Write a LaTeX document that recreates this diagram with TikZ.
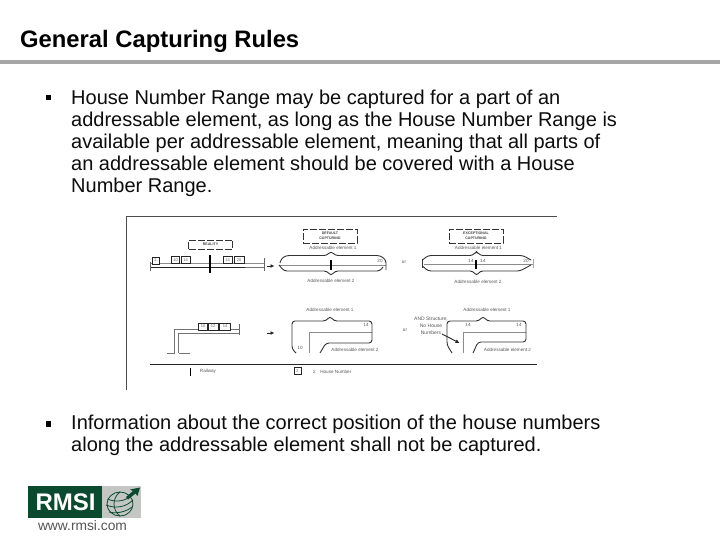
\documentclass[tikz,border=0pt]{standalone}
\usepackage{fontspec}
\setmainfont{Liberation Sans}
\usetikzlibrary{arrows.meta}
\definecolor{rulegray}{HTML}{A6A6A6}
\definecolor{rmsigreen}{HTML}{0B4A2F}
\definecolor{logogray}{HTML}{C4C6C4}
\definecolor{webgray}{HTML}{555555}
\tikzset{
  bodyline/.style={anchor=base west,inner sep=0pt,font=\fontsize{20}{22}\selectfont,text=black!95},
  tiny/.style={inner sep=0pt,font=\fontsize{4.6}{6}\selectfont,text=black!65,align=center},
  tinyb/.style={inner sep=0pt,font=\bfseries\fontsize{3.6}{5}\selectfont,text=black!75,align=center},
  capbox/.style={draw=black!80,line width=.7pt,dash pattern=on 7pt off 2pt,inner sep=0pt},
  numbox/.style={draw=black!85,line width=.7pt,fill=white,inner sep=0pt,font=\fontsize{4}{5}\selectfont,text=black!65},
  thinroad/.style={draw=black!45,line width=.5pt},
  blackroad/.style={draw=black!85,line width=.9pt},
  grayroad/.style={draw=black!55,line width=1pt},
  bracket/.style={draw=black!80,line width=.9pt,rounded corners=3pt},
  rail/.style={draw=black,line width=1.6pt},
  fatarrow/.style={draw=black!85,line width=.9pt,-{Latex[length=4pt,width=4pt]}}
}
\begin{document}
\begin{tikzpicture}[x=1pt,y=-1pt]
\useasboundingbox (0,0) rectangle (720,540);
\fill[white] (0,0) rectangle (720,540);
% title
\node[anchor=base west,inner sep=0pt,font=\bfseries\fontsize{23.8}{26}\selectfont] (title) at (20,48) {General Capturing Rules};
\coordinate (ruleL) at (0,62);
\coordinate (ruleR) at (720,62);
\draw[rulegray,line width=3.6pt] (ruleL) -- (ruleR);
% text
\fill[black] (45.5,95) rectangle (51,100.5);
\node[bodyline] (l1) at (71,105) {House Number Range may be captured for a part of an};
\node[bodyline] (l2) at (71,127) {addressable element, as long as the House Number Range is};
\node[bodyline] (l3) at (71,149) {available per addressable element, meaning that all parts of};
\node[bodyline] (l4) at (71,171) {an addressable element should be covered with a House};
\node[bodyline] (l5) at (71,193) {Number Range.};
\fill[black] (45.5,421) rectangle (51,426.5);
\node[bodyline] (l6) at (71,429) {Information about the correct position of the house numbers};
\node[bodyline] (l7) at (71,451) {along the addressable element shall not be captured.};
% figure frame
\draw[black!70,line width=.8pt] (126,390) -- (126,216) -- (557,216);
% ---------- top left: reality
\node[capbox,minimum width=44pt,minimum height=9pt] (reality) at (210.5,244.5) {};
\node[tinyb] (realityT) at (210.5,244.5) {REALITY};
\draw[thinroad] (150,263) -- (264,263);
\draw[blackroad] (150,267) -- (245,267);
\draw[grayroad] (245,267) -- (264,267);
\draw[black!60,line width=.5pt] (150,262) -- (150,271) (264,258) -- (264,271);
\draw[rail] (210,255) -- (210,273);
\node[numbox,minimum width=7pt,minimum height=7pt] (h2) at (155.5,260.5) {2};
\node[numbox,minimum width=8pt,minimum height=7pt] (h10) at (175.5,260) {10};
\node[numbox,minimum width=9pt,minimum height=7pt] (h14a) at (185.5,260) {14};
\node[numbox,minimum width=9pt,minimum height=7pt] (h14b) at (227.5,260) {14};
\node[numbox,minimum width=10pt,minimum height=7pt] (h20) at (239,260) {20};
\coordinate (a1s) at (267,266);
\coordinate (a1e) at (274.5,266);
\draw[fatarrow] (a1s) -- (a1e);
% ---------- top middle: default capturing
\node[capbox,minimum width=54pt,minimum height=14pt] (def) at (330,236) {};
\node[tinyb] (defT) at (330,236) {DEFAULT\\CAPTURING};
\node[tiny] (e1a) at (333,248) {Addressable element 1};
\draw[thinroad] (280,265) -- (386,265);
\draw[bracket] (280,263) -- (281,259) -- (286,255.5) -- (327,255.5) -- (331,251) -- (335,255.5) -- (380,255.5) -- (386,260) -- (386,270);
\draw[bracket] (279,265) -- (284,271) -- (327,271) -- (331,276) -- (335,271) -- (380,271) -- (383,267);
\draw[rail] (331,260) -- (331,270);
\node[tiny] (t20a) at (380,260.5) {20};
\node[tiny] (e2a) at (331,281) {Addressable element 2};
\node[tiny] (or1) at (404,262) {or};
% ---------- top right: exceptional capturing
\node[capbox,minimum width=54pt,minimum height=14pt] (exc) at (476,236) {};
\node[tinyb] (excT) at (476,236) {EXCEPTIONAL\\CAPTURING};
\node[tiny] (e1b) at (478.5,248) {Addressable element 1};
\draw[thinroad] (424,264.5) -- (533,264.5);
\draw[bracket] (422.5,260) -- (428,255.5) -- (473,255.5) -- (476.5,251) -- (480,255.5) -- (523,255.5) -- (531,260);
\draw[bracket] (422.5,266) -- (428,271) -- (473,271) -- (476.5,276) -- (480,271) -- (520,271) -- (531,265);
\draw[black!80,line width=.9pt] (422.5,259) -- (422.5,268);
\draw[black!35,line width=.9pt] (533,259) -- (533,268);
\draw[rail] (476,260) -- (476,269);
\node[tiny] (t14c) at (471,260.5) {14};
\node[tiny] (t14d) at (483,260.5) {14};
\node[tiny] (t20b) at (526,260.5) {20};
\node[tiny] (e2b) at (478,282) {Addressable element 2};
% ---------- bottom left road
\draw[grayroad] (167,353) -- (175,353) (179,353) -- (190,353);
\draw[grayroad] (174,353) -- (174,329.5) -- (240,329.5);
\draw[grayroad] (178.5,353) -- (178.5,333.5) -- (239,333.5);
\draw[black!60,line width=.5pt] (239.5,324) -- (239.5,335);
\node[numbox,minimum width=9.5pt,minimum height=7pt] (k10) at (203,326.5) {10};
\node[numbox,minimum width=10pt,minimum height=7pt] (k12) at (213,326.5) {12};
\node[numbox,minimum width=10.5pt,minimum height=7pt] (k14) at (225,326.5) {14};
\coordinate (a2s) at (267,333);
\coordinate (a2e) at (274.5,333);
\draw[fatarrow] (a2s) -- (a2e);
% ---------- bottom middle
\node[tiny] (e1c) at (330,310) {Addressable element 1};
\draw[thinroad] (309,353) -- (309,332) -- (372,332);
\draw[bracket] (296,353) -- (292,349) -- (292,321) -- (326,321) -- (330,316) -- (334,321) -- (372,321) -- (372,343) -- (326,343) -- (320,353);
\node[tiny] (t10a) at (300,348) {10};
\node[tiny] (t14e) at (366,325) {14};
\node[tiny] (e2c) at (355,350) {Addressable element 2};
\node[tiny] (or2) at (405,330) {or};
% ---------- bottom right
\node[tiny] (e1d) at (487,310) {Addressable element 1};
\node[tiny,font=\fontsize{5}{7}\selectfont] (andT) at (431,326) {AND Structure,\\No House\\Numbers};
\draw[thinroad] (463,353) -- (463,332) -- (526,332);
\draw[bracket] (452,353) -- (447,345) -- (447,321) -- (479,321) -- (483,316) -- (487,321) -- (526,321) -- (526,342) -- (478,342) -- (473,353);
\node[tiny] (t14f) at (468,325) {14};
\node[tiny] (t14g) at (519,325) {14};
\node[tiny] (e2d) at (507.5,350) {Addressable element 2};
\coordinate (a3s) at (442,334);
\coordinate (a3e) at (459.5,343);
\draw[fatarrow] (a3s) -- (a3e);
% ---------- legend
\coordinate (legL) at (150,364);
\coordinate (legR) at (537,364);
\draw[black!85,line width=.8pt] (legL) -- (legR);
\draw[rail,line width=1.1pt] (190.5,368) -- (190.5,376);
\node[tiny] (railT) at (208,371.5) {Railway};
\node[numbox,minimum width=7pt,minimum height=7pt] (legbox) at (297.5,371) {2};
\node[tiny,anchor=west] (houseT) at (313,371.5) {2\quad House Number};
% ---------- logo
\fill[rmsigreen] (28,486) rectangle (102,518);
\fill[logogray] (102,486) rectangle (141,518);
\node[inner sep=0pt,text=white,font=\bfseries\fontsize{24}{26}\selectfont] (rmsi) at (65.5,502.5) {RMSI};
\begin{scope}[draw=rmsigreen,line width=.8pt]
\draw (120,504) ellipse (13 and 12);
\draw (107.5,499) .. controls (116,503) and (126,501) .. (132,495);
\draw (106,505) .. controls (116,509) and (126,507) .. (133,500);
\draw (109,512) .. controls (116,514) and (126,512) .. (132,507);
\draw (120,492) .. controls (112,498) and (112,510) .. (120,516);
\end{scope}
\fill[rmsigreen] (126,497) -- (133,491) -- (130,489.5) -- (140,487.5) -- (137.5,496) -- (135.5,493.5) -- (128,499.5) -- cycle;
\node[inner sep=0pt,text=webgray,font=\fontsize{13.8}{15}\selectfont] (web) at (82.5,526) {www.rmsi.com};
\end{tikzpicture}
\end{document}
